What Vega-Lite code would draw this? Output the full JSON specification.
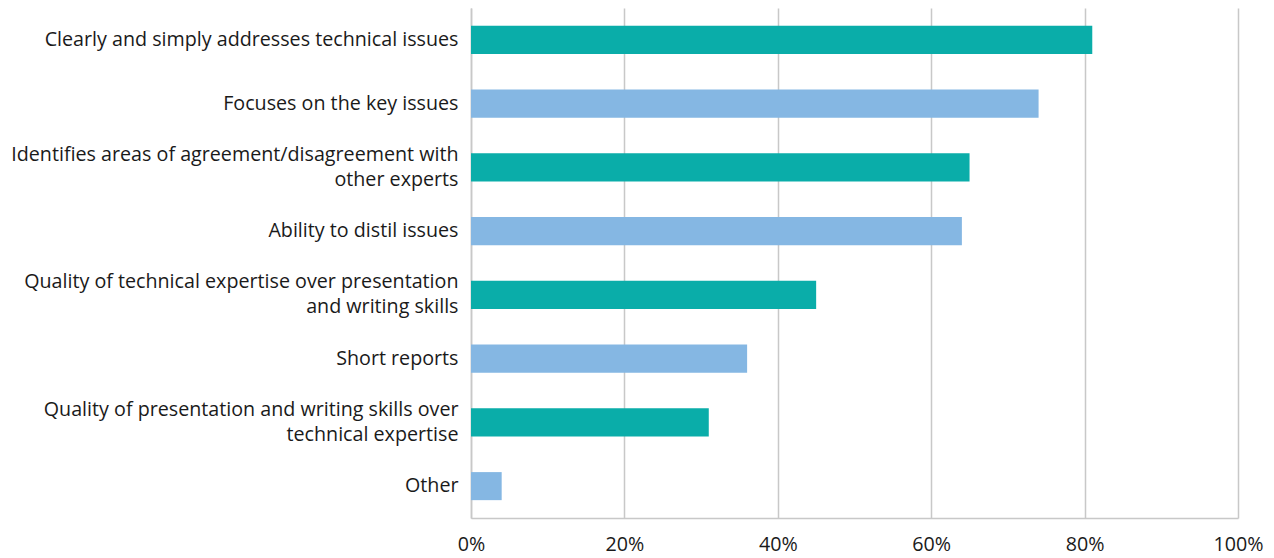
{
  "$schema": "https://vega.github.io/schema/vega-lite/v6.json",
  "autosize": "none",
  "width": 767,
  "height": 510,
  "padding": {"left": 471, "top": 8, "right": 36, "bottom": 40},
  "background": "white",
  "data": {
    "values": [
      {"item": "Clearly and simply addresses technical issues", "pct": 0.81, "group": "a"},
      {"item": "Focuses on the key issues", "pct": 0.74, "group": "b"},
      {"item": "Identifies areas of agreement/disagreement with|other experts", "pct": 0.65, "group": "a"},
      {"item": "Ability to distil issues", "pct": 0.64, "group": "b"},
      {"item": "Quality of technical expertise over presentation|and writing skills", "pct": 0.45, "group": "a"},
      {"item": "Short reports", "pct": 0.36, "group": "b"},
      {"item": "Quality of presentation and writing skills over|technical expertise", "pct": 0.31, "group": "a"},
      {"item": "Other", "pct": 0.04, "group": "b"}
    ]
  },
  "mark": {"type": "bar"},
  "encoding": {
    "y": {
      "field": "item",
      "type": "nominal",
      "sort": null,
      "scale": {"paddingInner": 0.56, "paddingOuter": 0.28},
      "axis": {
        "title": null,
        "labelExpr": "split(datum.value, '|')",
        "labelFont": "Open Sans",
        "labelFontSize": 19.7,
        "labelColor": "#1a1a1a",
        "labelLineHeight": 25,
        "labelPadding": 13,
        "labelLimit": 500,
        "labelOffset": {"condition": {"test": "indexof(datum.value, '|') >= 0", "value": -12.5}, "value": 0},
        "ticks": false,
        "domain": true,
        "domainColor": "#c8c8c8",
        "domainWidth": 1.5,
        "grid": false
      }
    },
    "x": {
      "field": "pct",
      "type": "quantitative",
      "scale": {"domain": [0, 1], "nice": false},
      "axis": {
        "title": null,
        "format": ".0%",
        "values": [0, 0.2, 0.4, 0.6, 0.8, 1],
        "labelFont": "Open Sans",
        "labelFontSize": 19.7,
        "labelColor": "#1a1a1a",
        "labelPadding": 16,
        "labelFlush": false,
        "ticks": false,
        "domainColor": "#c8c8c8",
        "domainWidth": 1.5,
        "grid": true,
        "gridColor": "#c8c8c8",
        "gridWidth": 1.5
      }
    },
    "color": {
      "field": "group",
      "type": "nominal",
      "scale": {"domain": ["a", "b"], "range": ["#0AADA9", "#85B7E3"]},
      "legend": null
    }
  },
  "config": {"view": {"stroke": null}}
}
